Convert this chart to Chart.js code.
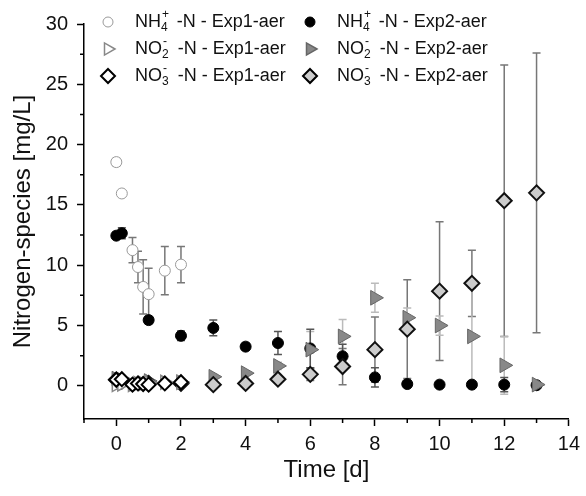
<!DOCTYPE html>
<html>
<head>
<meta charset="utf-8">
<script src="https://cdn.jsdelivr.net/npm/chart.js@4.4.0/dist/chart.umd.min.js"></script>
<style>body{margin:0;background:#fff}</style>
</head>
<body>
<canvas id="myChart" width="586" height="496"></canvas>
<script>
const ctx = document.getElementById('myChart');

// sampling times [d]
const timeExp1 = [0, 0.17, 0.5, 0.67, 0.83, 1, 1.5, 2];
const timeExp2 = [0, 0.17, 1, 2, 3, 4, 5, 6, 7, 8, 9, 10, 11, 12, 13];

// Exp1 (mg/L) and standard deviations
const nh4Exp1 = [18.55, 15.95, 11.25, 9.85, 8.2, 7.6, 9.55, 10.05];
const nh4Exp1Err = [0.3, 0.2, 1.05, 1.3, 2.25, 2.15, 2.0, 1.5];
const no2Exp1 = [0.1, 0.15, 0.1, 0.2, 0.2, 0.25, 0.3, 0.3];
const no2Exp1Err = [0.1, 0.1, 0.1, 0.1, 0.1, 0.1, 0.1, 0.1];
const no3Exp1 = [0.5, 0.55, 0.1, 0.2, 0.15, 0.1, 0.2, 0.3];
const no3Exp1Err = [0, 0, 0, 0, 0, 0, 0, 0];

// Exp2 (mg/L) and standard deviations
const nh4Exp2 = [12.45, 12.65, 5.45, 4.15, 4.8, 3.25, 3.55, 3.1, 2.45, 0.7, 0.15, 0.1, 0.1, 0.1, 0.05];
const nh4Exp2Err = [0.3, 0.45, 0.3, 0.4, 0.65, 0.3, 0.95, 1.6, 1.0, 0.8, 0.2, 0.1, 0.1, 0.6, 0.1];
const no2Exp2 = [0.6, 0.5, 0.4, 0.3, 0.75, 1.05, 1.65, 3.0, 4.1, 7.3, 5.65, 5.0, 4.1, 1.7, 0.1];
const no2Exp2Err = [0.1, 0.1, 0.1, 0.1, 0.2, 0.2, 0.3, 1.5, 1.4, 1.2, 0.8, 0.8, 4.0, 2.4, 0.1];
const no3Exp2 = [0.5, 0.4, 0.2, 0.2, 0.1, 0.2, 0.55, 0.95, 1.6, 3.0, 4.7, 7.85, 8.5, 15.35, 16.0];
const no3Exp2Err = [0.1, 0.1, 0.1, 0.1, 0.1, 0.1, 0.2, 0.5, 1.5, 2.7, 4.1, 5.75, 2.75, 11.25, 11.6];

// axis ticks
const xMajor = [0, 2, 4, 6, 8, 10, 12, 14];
const xMinor = [-1, 1, 3, 5, 7, 9, 11, 13];
const yMajor = [0, 5, 10, 15, 20, 25, 30];
const yMinor = [2.5, 7.5, 12.5, 17.5, 22.5, 27.5];

const FONT = "'Liberation Sans', Arial, sans-serif";

function pts(xs, ys) {
    return xs.map((x, i) => ({x: x, y: ys[i]}));
}

const errorBars = {
    id: 'errorBars',
    beforeDatasetsDraw(chart) {
        const c = chart.ctx;
        const xs = chart.scales.x, ys = chart.scales.y;
        chart.data.datasets.forEach((ds) => {
            if (!ds.errors) return;
            c.save();
            c.strokeStyle = ds.errorColor;
            c.lineWidth = 1.5;
            ds.data.forEach((p, i) => {
                const e = ds.errors[i];
                if (!e) return;
                const px = xs.getPixelForValue(p.x);
                const top = ys.getPixelForValue(p.y + e);
                const bot = ys.getPixelForValue(p.y - e);
                c.beginPath();
                c.moveTo(px, top); c.lineTo(px, bot);
                c.moveTo(px - 4, top); c.lineTo(px + 4, top);
                c.moveTo(px - 4, bot); c.lineTo(px + 4, bot);
                c.stroke();
            });
            c.restore();
        });
    }
};

const minorTicks = {
    id: 'minorTicks',
    afterDraw(chart) {
        const c = chart.ctx;
        const xs = chart.scales.x, ys = chart.scales.y;
        const area = chart.chartArea;
        c.save();
        c.strokeStyle = '#000';
        c.lineWidth = 1.5;
        c.beginPath();
        xMinor.forEach((v) => {
            const px = xs.getPixelForValue(v);
            c.moveTo(px, area.bottom); c.lineTo(px, area.bottom + 4);
        });
        yMinor.forEach((v) => {
            const py = ys.getPixelForValue(v);
            c.moveTo(area.left, py); c.lineTo(area.left - 4, py);
        });
        c.stroke();
        c.restore();
    }
};

function marker(c, style, x, y, fill, stroke, lw) {
    c.save();
    c.fillStyle = fill;
    c.strokeStyle = stroke;
    c.lineWidth = lw;
    c.beginPath();
    if (style === 'circle') {
        c.arc(x, y, 5, 0, Math.PI * 2);
    } else if (style === 'triangle') {
        const r = 7;
        c.moveTo(x + r, y);
        c.lineTo(x - r / 2, y - r * 0.866);
        c.lineTo(x - r / 2, y + r * 0.866);
        c.closePath();
    } else {
        const r = 7;
        c.moveTo(x, y - r); c.lineTo(x + r, y); c.lineTo(x, y + r); c.lineTo(x - r, y);
        c.closePath();
    }
    c.fill();
    c.stroke();
    c.restore();
}

// species label pieces: base, subscript, superscript
const legendItems = [
    {ion: ['NH', '4', '+'], exp: 'Exp1-aer', style: 'circle', fill: '#fff', stroke: '#999', lw: 1, col: 0, row: 0},
    {ion: ['NO', '2', '-'], exp: 'Exp1-aer', style: 'triangle', fill: '#fff', stroke: '#888', lw: 1.5, col: 0, row: 1},
    {ion: ['NO', '3', '-'], exp: 'Exp1-aer', style: 'diamond', fill: '#fff', stroke: '#000', lw: 2, col: 0, row: 2},
    {ion: ['NH', '4', '+'], exp: 'Exp2-aer', style: 'circle', fill: '#000', stroke: '#000', lw: 1, col: 1, row: 0},
    {ion: ['NO', '2', '-'], exp: 'Exp2-aer', style: 'triangle', fill: '#888', stroke: '#666', lw: 1.5, col: 1, row: 1},
    {ion: ['NO', '3', '-'], exp: 'Exp2-aer', style: 'diamond', fill: '#ccc', stroke: '#000', lw: 2, col: 1, row: 2}
];

const legendPlugin = {
    id: 'customLegend',
    afterDraw(chart) {
        const c = chart.ctx;
        const colX = [108, 310];
        const rowY = [22, 49, 76];
        c.save();
        c.fillStyle = '#111';
        c.textBaseline = 'middle';
        legendItems.forEach((it) => {
            const mx = colX[it.col], my = rowY[it.row];
            marker(c, it.style, mx, my, it.fill, it.stroke, it.lw);
            let tx = mx + 27;
            c.font = '18px ' + FONT;
            c.fillText(it.ion[0], tx, my);
            tx += c.measureText(it.ion[0]).width;
            c.font = '12px ' + FONT;
            c.fillText(it.ion[1], tx, my + 6);
            c.fillText(it.ion[2], tx + 1, my - 7);
            tx += c.measureText(it.ion[1]).width + 4;
            c.font = '18px ' + FONT;
            c.fillText(' -N - ' + it.exp, tx, my);
        });
        c.restore();
    }
};

new Chart(ctx, {
    type: 'scatter',
    data: {
        datasets: [
            {label: 'NH4 Exp1', data: pts(timeExp1, nh4Exp1), errors: nh4Exp1Err, errorColor: '#777',
             pointStyle: 'circle', pointRadius: 5.5, backgroundColor: '#fff', borderColor: '#999', borderWidth: 1, order: 1},
            {label: 'NO3 Exp1', data: pts(timeExp1, no3Exp1), errors: no3Exp1Err, errorColor: '#777',
             pointStyle: 'rectRot', pointRadius: 7, backgroundColor: '#fff', borderColor: '#000', borderWidth: 2, order: 2},
            {label: 'NO2 Exp1', data: pts(timeExp1, no2Exp1), errors: no2Exp1Err, errorColor: '#aaa',
             pointStyle: 'triangle', pointRotation: 90, pointRadius: 8, backgroundColor: '#fff', borderColor: '#888', borderWidth: 1.5, order: 3},
            {label: 'NO3 Exp2', data: pts(timeExp2, no3Exp2), errors: no3Exp2Err, errorColor: '#777',
             pointStyle: 'rectRot', pointRadius: 7.5, backgroundColor: '#ccc', borderColor: '#111', borderWidth: 2, order: 4},
            {label: 'NO2 Exp2', data: pts(timeExp2, no2Exp2), errors: no2Exp2Err, errorColor: '#bbb',
             pointStyle: 'triangle', pointRotation: 90, pointRadius: 8.5, backgroundColor: '#888', borderColor: '#666', borderWidth: 1, order: 5},
            {label: 'NH4 Exp2', data: pts(timeExp2, nh4Exp2), errors: nh4Exp2Err, errorColor: '#555',
             pointStyle: 'circle', pointRadius: 5.5, backgroundColor: '#000', borderColor: '#000', borderWidth: 1, order: 6}
        ]
    },
    options: {
        responsive: false,
        animation: false,
        layout: {padding: {top: 24, right: 13, left: 0, bottom: 0}},
        plugins: {
            legend: {display: false},
            tooltip: {enabled: false}
        },
        scales: {
            x: {
                type: 'linear',
                min: -1,
                max: 14,
                afterBuildTicks: (axis) => { axis.ticks = xMajor.map((v) => ({value: v})); },
                afterFit: (axis) => { axis.height = 77; },
                ticks: {font: {family: FONT, size: 20}, color: '#111', padding: 6},
                grid: {drawOnChartArea: false, drawTicks: true, tickLength: 7, tickColor: '#000', tickWidth: 1.5},
                border: {color: '#000', width: 1.5},
                title: {display: true, text: 'Time [d]', font: {family: FONT, size: 24}, color: '#111', padding: {top: 0, bottom: 11}}
            },
            y: {
                type: 'linear',
                min: -2.75,
                max: 30,
                afterBuildTicks: (axis) => { axis.ticks = yMajor.map((v) => ({value: v})); },
                afterFit: (axis) => { axis.width = 84; },
                ticks: {font: {family: FONT, size: 20}, color: '#111', padding: 9},
                grid: {drawOnChartArea: false, drawTicks: true, tickLength: 7, tickColor: '#000', tickWidth: 1.5},
                border: {color: '#000', width: 1.5},
                title: {display: true, text: 'Nitrogen-species [mg/L]', font: {family: FONT, size: 24}, color: '#111', padding: {top: 9, bottom: 0}}
            }
        }
    },
    plugins: [errorBars, minorTicks, legendPlugin]
});
</script>
</body>
</html>
